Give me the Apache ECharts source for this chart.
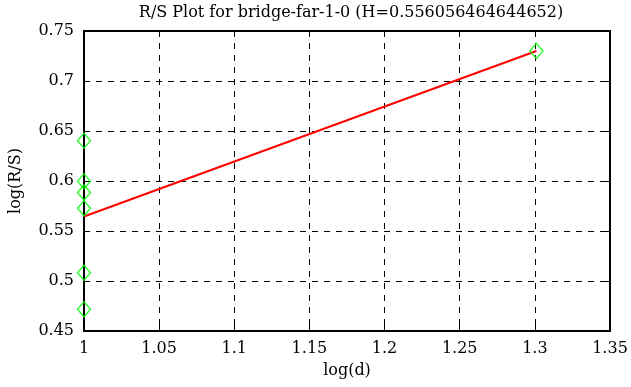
<!DOCTYPE html>
<html>
<head>
<meta charset="utf-8">
<script src="https://cdn.jsdelivr.net/npm/echarts@6/dist/echarts.min.js"></script>
<style>
  html, body { margin: 0; padding: 0; background: #fff; }
  #chart { width: 631px; height: 387px; }
</style>
</head>
<body>
<div id="chart"></div>
<script>
// R/S points: log(d) vs log(R/S)
const logD = [1, 1, 1, 1, 1, 1, 1.30103];
const logRS = [0.6403, 0.5997, 0.5885, 0.5727, 0.5083, 0.4717, 0.7300];
// fitted line end points
const fitX = [1, 1.30103];
const fitY = [0.5645, 0.7300];

const serif = 'DejaVu Serif';
const chart = echarts.init(document.getElementById('chart'));

const baseAxis = {
    axisLine: { show: true, lineStyle: { color: '#000', width: 2 } },
    axisTick: { show: true, inside: true, length: 6, lineStyle: { color: '#000', width: 1 } },
    axisLabel: { color: '#000', fontFamily: serif, fontSize: 16 },
    minorTick: { show: false }
};

chart.setOption({
    animation: false,
    backgroundColor: '#fff',
    title: {
        text: 'R/S Plot for bridge-far-1-0 (H=0.556056464644652)',
        left: 346,
        textAlign: 'center',
        top: 0,
        textStyle: { fontFamily: serif, fontSize: 16, fontWeight: 'normal', color: '#000' }
    },
    grid: { left: 82, right: 21, top: 31, bottom: 56 },
    xAxis: [
        Object.assign({}, baseAxis, {
            type: 'value', min: 1, max: 1.35, interval: 0.05,
            name: 'log(d)', nameLocation: 'middle', nameGap: 32,
            nameTextStyle: { fontFamily: serif, fontSize: 16, color: '#000' },
            axisLabel: { color: '#000', fontFamily: serif, fontSize: 16, margin: 10,
                formatter: v => String(+v.toFixed(2)) },
            splitLine: { show: true, lineStyle: { color: '#000', type: [6, 6], width: 1 } }
        }),
        Object.assign({}, baseAxis, {
            type: 'value', min: 1, max: 1.35, interval: 0.05, position: 'top',
            axisLabel: { show: false }, splitLine: { show: false }
        })
    ],
    yAxis: [
        Object.assign({}, baseAxis, {
            type: 'value', min: 0.45, max: 0.75, interval: 0.05,
            name: 'log(R/S)', nameLocation: 'middle', nameGap: 60,
            nameTextStyle: { fontFamily: serif, fontSize: 16, color: '#000' },
            axisLabel: { color: '#000', fontFamily: serif, fontSize: 16, margin: 10,
                formatter: v => String(+v.toFixed(2)) },
            splitLine: { show: true, lineStyle: { color: '#000', type: [6, 6], width: 1 } }
        }),
        Object.assign({}, baseAxis, {
            type: 'value', min: 0.45, max: 0.75, interval: 0.05, position: 'right',
            axisLabel: { show: false }, splitLine: { show: false }
        })
    ],
    series: [
        {
            name: 'fit',
            type: 'line',
            showSymbol: false,
            data: fitX.map((x, i) => [x, fitY[i]]),
            lineStyle: { color: '#ff0000', width: 2 },
            z: 3
        },
        {
            name: 'points',
            type: 'scatter',
            symbol: 'diamond',
            symbolSize: [13, 15],
            data: logD.map((x, i) => [x, logRS[i]]),
            itemStyle: { color: 'rgba(0,0,0,0)', borderColor: '#00ff00', borderWidth: 1.5 },
            z: 4
        }
    ]
});
</script>
</body>
</html>
